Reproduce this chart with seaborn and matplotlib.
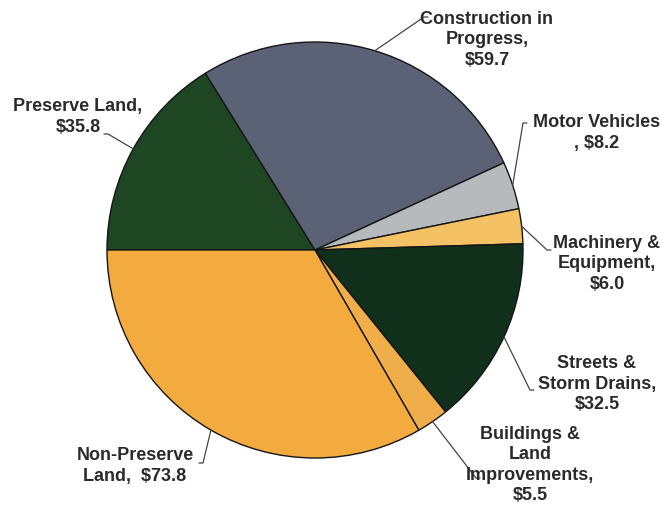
import numpy as np
import matplotlib
matplotlib.use("Agg")
import matplotlib.pyplot as plt
import seaborn as sns

# capital assets ($ millions), in clockwise order starting at 9 o'clock
categories = ["Preserve Land", "Construction in Progress", "Motor Vehicles",
              "Machinery & Equipment", "Streets & Storm Drains",
              "Buildings & Land Improvements", "Non-Preserve Land"]
values = [35.8, 59.7, 8.2, 6.0, 32.5, 5.5, 73.8]
label_texts = ["Preserve Land,\n$35.8",
               "Construction in\nProgress,\n$59.7",
               "Motor Vehicles\n, $8.2",
               "Machinery &\nEquipment,\n$6.0",
               "Streets &\nStorm Drains,\n$32.5",
               "Buildings &\nLand\nImprovements,\n$5.5",
               "Non-Preserve\nLand,  $73.8"]
colors = ["#1e4623", "#5b6275", "#b6babd", "#f4c265",
          "#11301b", "#efae4a", "#f3ab40"]

# layout (pixel positions in the 665x508 canvas)
W, H = 665, 508
CX, CY, R = 315, 250, 208
text_pos = [(78, 117), (487, 40), (597, 133), (607, 264),
            (597, 384), (530, 465), (135, 466)]
elbow_pos = [(108, 134), (424, 17), (523, 123), (547, 250),
             (530, 390), (476, 478), (203, 463)]
tick_dir = [-1, 1, 1, 1, 1, 1, -1]


def px(p):
    return ((p[0] - CX) / R, (CY - p[1]) / R)


sns.set_theme(style="white")
plt.rcParams['font.family'] = ['Liberation Sans', 'DejaVu Sans']

fig = plt.figure(figsize=(W / 100, H / 100), dpi=100)
fig.patch.set_facecolor("white")
ax = fig.add_axes([0, 0, 1, 1])

wedges, _ = ax.pie(values, colors=colors, startangle=180, counterclock=False,
                   radius=1, center=(0, 0),
                   wedgeprops=dict(edgecolor="#151515", linewidth=1.0))

ax.set_xlim(-CX / R, (W - CX) / R)
ax.set_ylim(-(H - CY) / R, CY / R)
ax.set_aspect("auto")
ax.axis("off")

for w, txt, tp, ep, d in zip(wedges, label_texts, text_pos, elbow_pos, tick_dir):
    mid = np.deg2rad((w.theta1 + w.theta2) / 2)
    anchor = (np.cos(mid), np.sin(mid))
    ex, ey = px(ep)
    ax.plot([anchor[0], ex, ex + d * 4 / R], [anchor[1], ey, ey],
            color="#444444", lw=0.9)
    ax.text(*px(tp), txt, ha="center", va="center", fontsize=13,
            fontweight="bold", color="#2a2a2a", linespacing=1.28)

plt.savefig("out.png", dpi=100)
